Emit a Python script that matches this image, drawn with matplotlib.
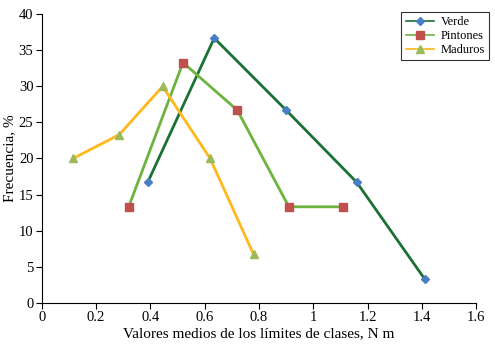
import numpy as np
import matplotlib
matplotlib.use("Agg")
import matplotlib.pyplot as plt

plt.rcParams['font.family'] = ['Liberation Serif', 'DejaVu Serif']

# Datos
verde_x = [0.39, 0.635, 0.90, 1.16, 1.41]
verde_y = [16.7, 36.7, 26.7, 16.7, 3.3]

pintones_x = [0.32, 0.52, 0.72, 0.91, 1.11]
pintones_y = [13.3, 33.3, 26.7, 13.3, 13.3]

maduros_x = [0.115, 0.285, 0.445, 0.62, 0.78]
maduros_y = [20.0, 23.3, 30.0, 20.0, 6.7]

xticks = [0, 0.2, 0.4, 0.6, 0.8, 1, 1.2, 1.4, 1.6]
xtick_labels = ['0', '0.2', '0.4', '0.6', '0.8', '1', '1.2', '1.4', '1.6']
yticks = [0, 5, 10, 15, 20, 25, 30, 35, 40]

fig = plt.figure(figsize=(4.95, 3.45), dpi=100)
ax = fig.add_axes([0.0845, 0.1226, 0.8775, 0.836])

ax.plot(verde_x, verde_y, color='#1b7135', lw=2, marker='D', ms=4.5,
        mfc='#4a7ec4', mec='#4a7ec4', label='Verde')
ax.plot(pintones_x, pintones_y, color='#6db33f', lw=2, marker='s', ms=6,
        mfc='#c0504d', mec='#c0504d', label='Pintones')
ax.plot(maduros_x, maduros_y, color='#ffb81c', lw=2, marker='^', ms=6,
        mfc='#9bbb59', mec='#9bbb59', label='Maduros')

ax.set_xlim(0, 1.6)
ax.set_ylim(0, 40)
ax.set_xticks(xticks)
ax.set_xticklabels(xtick_labels)
ax.set_yticks(yticks)
ax.spines['top'].set_visible(False)
ax.spines['right'].set_visible(False)
ax.tick_params(direction='out', length=4, labelsize=10.5, pad=2)

ax.set_xlabel('Valores medios de los límites de clases, N m', fontsize=11, labelpad=2)
ax.set_ylabel('Frecuencia, %', fontsize=11, labelpad=2)

leg = ax.legend(loc='upper right', bbox_to_anchor=(1.045, 1.03), fontsize=9,
                fancybox=False, edgecolor='black', handlelength=2.3,
                borderpad=0.35, labelspacing=0.15, handletextpad=0.5)
leg.get_frame().set_linewidth(0.8)
for line in leg.get_lines():
    line.set_linewidth(1.2)

fig.savefig('out.png', dpi=100)
